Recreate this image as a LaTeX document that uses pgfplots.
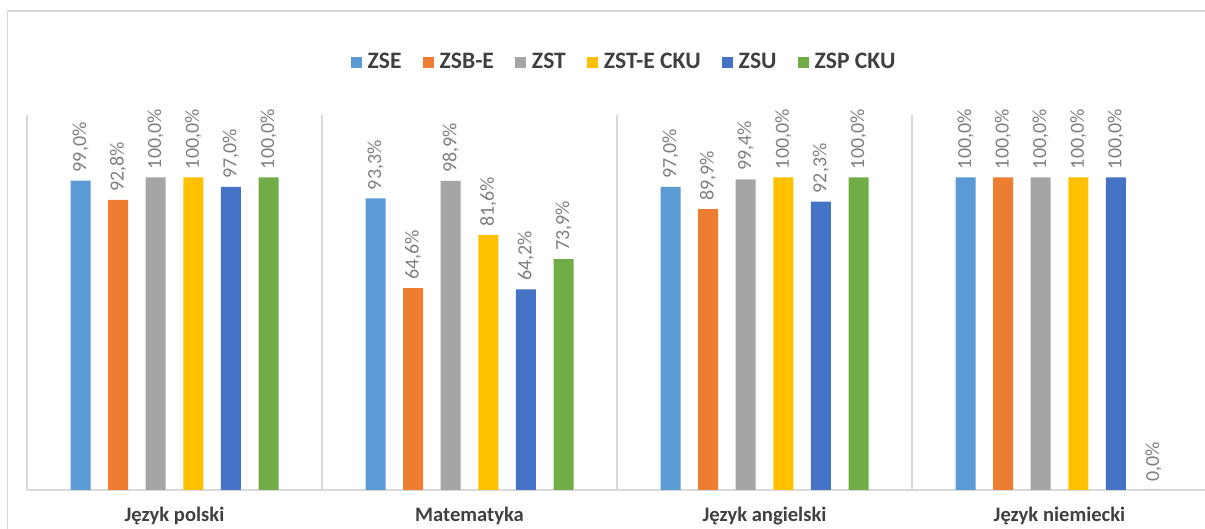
\documentclass[border=0pt]{standalone}
\usepackage{fontspec}
\setmainfont{Carlito}
\usepackage{pgfplots}
\pgfplotsset{compat=1.18}

\definecolor{cZSE}{HTML}{5B9BD5}
\definecolor{cZSBE}{HTML}{ED7D31}
\definecolor{cZST}{HTML}{A5A5A5}
\definecolor{cZSTE}{HTML}{FFC000}
\definecolor{cZSU}{HTML}{4472C4}
\definecolor{cZSP}{HTML}{70AD47}
\definecolor{gridc}{HTML}{D9D9D9}
\definecolor{lblc}{HTML}{7F7F7F}
\definecolor{txtc}{HTML}{404040}

\begin{document}
\begin{tikzpicture}
\useasboundingbox (0,0) rectangle (602.5pt,264.5pt);
\clip (0,0) rectangle (602.5pt,264.5pt);
% chart frame
\draw[gridc, line width=0.75pt] (3.75pt,-10pt) -- (3.75pt,259pt) -- (620pt,259pt);
\begin{axis}[
    at={(13.5pt,19.5pt)}, anchor=south west,
    scale only axis, width=590pt, height=187.5pt,
    xmin=-0.5, xmax=3.5, ymin=0, ymax=120,
    ybar=8.8pt, bar width=10pt,
    axis x line=bottom, axis y line=left,
    axis line style={-, gridc, line width=0.75pt},
    ytick=\empty,
    xtick={0,1,2,3},
    xticklabels={Język polski, Matematyka, Język angielski, Język niemiecki},
    major tick length=0pt,
    xticklabel style={font=\fontsize{10.3}{12}\selectfont\bfseries, text=txtc, yshift=-5pt},
    extra x ticks={0.5,1.5,2.5,3.5},
    extra x tick labels={},
    extra x tick style={grid=major, major grid style={gridc, line width=0.75pt}},
    /pgf/number format/assume math mode=true,
    nodes near coords={\pgfmathprintnumber[fixed,fixed zerofill,precision=1,use comma,assume math mode=true]{\pgfplotspointmeta}\%},
    nodes near coords style={rotate=90, anchor=west, font=\fontsize{10}{12}\selectfont, text=lblc, inner sep=4pt},
    legend columns=-1,
    legend style={at={(0.5068,1.1413)}, anchor=center, draw=none, fill=none,
      font=\fontsize{11.8}{13}\selectfont\bfseries, text=txtc,
      /tikz/every odd column/.append style={column sep=1pt},
      /tikz/every even column/.append style={column sep=8.5pt}},
    legend image code/.code={\fill[#1] (0pt,-2.75pt) rectangle (5.5pt,2.75pt);},
  ]
\addplot[fill=cZSE, draw=none] coordinates {(0,99.0) (1,93.3) (2,97.0) (3,100.0)};
\addplot[fill=cZSBE, draw=none] coordinates {(0,92.8) (1,64.6) (2,89.9) (3,100.0)};
\addplot[fill=cZST, draw=none] coordinates {(0,100.0) (1,98.9) (2,99.4) (3,100.0)};
\addplot[fill=cZSTE, draw=none] coordinates {(0,100.0) (1,81.6) (2,100.0) (3,100.0)};
\addplot[fill=cZSU, draw=none] coordinates {(0,97.0) (1,64.2) (2,92.3) (3,100.0)};
\addplot[fill=cZSP, draw=none] coordinates {(0,100.0) (1,73.9) (2,100.0) (3,0.0)};
\legend{ZSE, ZSB-E, ZST, ZST-E CKU, ZSU, ZSP CKU}
\end{axis}
\end{tikzpicture}
\end{document}
